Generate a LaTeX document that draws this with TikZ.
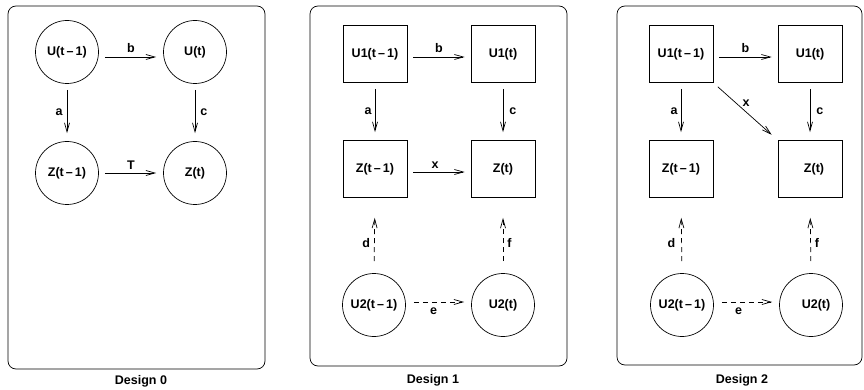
\documentclass[tikz,border=0pt]{standalone}
\usepackage{fontspec}
\setmainfont{Liberation Sans}
\usetikzlibrary{arrows.meta}
\begin{document}
\begin{tikzpicture}[x=1pt,y=-1pt,
  every node/.style={font=\fontsize{12.5}{14}\selectfont\bfseries},
  circ/.style={draw,circle,minimum size=63pt,inner sep=0pt,line width=0.7pt},
  sq/.style={draw,rectangle,minimum width=64pt,minimum height=57pt,inner sep=0pt,line width=0.7pt},
  arr/.style={line width=0.7pt,-{Straight Barb[length=9pt,width=5pt]}},
  darr/.style={arr,dash pattern=on 5pt off 4pt},
  frame/.style={draw,line width=0.7pt,rounded corners=8pt},
  lbl/.style={inner sep=2pt}
]
\useasboundingbox (0,0) rectangle (864,390);
% frames
\draw[frame] (8,6) rectangle (265,369);
\draw[frame] (310,6) rectangle (567,366);
\draw[frame] (617,6) rectangle (862,365);
\node (d0) at (141,381) {Design 0};
\node (d1) at (433,380) {Design 1};
\node (d2) at (742,380) {Design 2};

% Design 0
\node[circ] (a0) at (67,52) {U(t\,\textendash\,1)};
\node[circ] (b0) at (195,52) {U(t)};
\node[circ] (c0) at (67,173) {Z(t\,\textendash\,1)};
\node[circ] (e0) at (195,173) {Z(t)};
\draw[arr,shorten <=6pt,shorten >=7pt] ([yshift=-5pt]a0.east) -- node[lbl,above,yshift=2pt]{b} ([yshift=-5pt]b0.west);
\draw[arr,shorten <=6pt,shorten >=8pt] (a0.south) -- node[lbl,left,xshift=-2pt]{a} (c0.north);
\draw[arr,shorten <=6pt,shorten >=8pt] (b0.south) -- node[lbl,right,xshift=3pt]{c} (e0.north);
\draw[arr,shorten <=6pt,shorten >=7pt] (c0.east) -- node[lbl,above,yshift=1pt]{T} (e0.west);

% Design 1
\node[sq] (a1) at (375,54) {U1(t\,\textendash\,1)};
\node[sq] (b1) at (503,54) {U1(t)};
\node[sq] (c1) at (375,169) {Z(t\,\textendash\,1)};
\node[sq] (e1) at (503,169) {Z(t)};
\node[circ] (f1) at (374,305) {U2(t\,\textendash\,1)};
\node[circ] (g1) at (503,305) {U2(t)};
\draw[arr,shorten <=6pt,shorten >=6pt] ([yshift=-3pt]a1.east) -- node[lbl,above,yshift=2pt]{b} ([yshift=-3pt]b1.west);
\draw[arr,shorten <=6pt,shorten >=8pt] (a1.south) -- node[lbl,left,xshift=-1pt]{a} (c1.north);
\draw[arr,shorten <=6pt,shorten >=8pt] (b1.south) -- node[lbl,right,xshift=4pt]{c} (e1.north);
\draw[arr,shorten <=6pt,shorten >=6pt] ([yshift=-3pt]c1.east) -- node[lbl,above,yshift=1pt,xshift=-4pt]{x} ([yshift=-3pt]e1.west);
\draw[darr,shorten <=12pt,shorten >=20pt] (f1.north) -- node[lbl,left,xshift=-2pt,pos=0.4]{d} (c1.south);
\draw[darr,shorten <=12pt,shorten >=20pt] (g1.north) -- node[lbl,right,xshift=2pt,pos=0.4]{f} (e1.south);
\draw[darr,shorten <=8pt,shorten >=7pt] ([yshift=3pt]f1.east) -- node[lbl,below,yshift=-3pt,xshift=-5pt]{e} ([yshift=3pt]g1.west);

% Design 2
\node[sq] (a2) at (681,54) {U1(t\,\textendash\,1)};
\node[sq] (b2) at (810,54) {U1(t)};
\node[sq] (c2) at (681,169) {Z(t\,\textendash\,1)};
\node[sq] (e2) at (810,169) {\hspace*{8pt}Z(t)};
\node[circ] (f2) at (682,305) {U2(t\,\textendash\,1)};
\node[circ] (g2) at (811,305) {\hspace*{10pt}U2(t)};
\draw[arr,shorten <=6pt,shorten >=6pt] ([yshift=-3pt]a2.east) -- node[lbl,above,yshift=2pt]{b} ([yshift=-3pt]b2.west);
\draw[arr,shorten <=6pt,shorten >=8pt] (a2.south) -- node[lbl,left,xshift=-1pt]{a} (c2.north);
\draw[arr,shorten <=6pt,shorten >=8pt] (b2.south) -- node[lbl,right,xshift=4pt]{c} (e2.north);
\draw[arr,shorten <=6pt,shorten >=8pt] (a2.south east) -- node[lbl,pos=0.45,above right,xshift=-2pt]{x} (e2.north west);
\draw[darr,shorten <=12pt,shorten >=20pt] (f2.north) -- node[lbl,left,xshift=-4pt,pos=0.4]{d} (c2.south);
\draw[darr,shorten <=12pt,shorten >=20pt] (g2.north) -- node[lbl,right,xshift=2pt,pos=0.4]{f} (e2.south);
\draw[darr,shorten <=8pt,shorten >=7pt] ([yshift=3pt]f2.east) -- node[lbl,below,yshift=-3pt,xshift=-8pt]{e} ([yshift=3pt]g2.west);
\end{tikzpicture}
\end{document}
